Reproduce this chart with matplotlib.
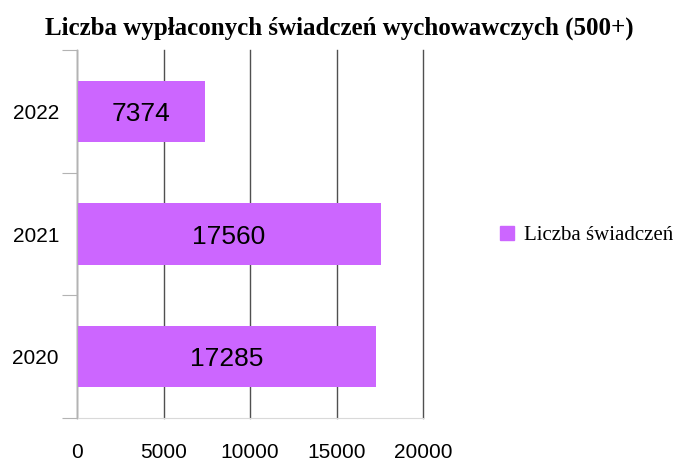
import numpy as np
import matplotlib.pyplot as plt
from matplotlib.patches import Patch

# data
years = ['2020', '2021', '2022']
counts = [17285, 17560, 7374]
series_name = 'Liczba świadczeń'
title = 'Liczba wypłaconych świadczeń wychowawczych (500+)'
bar_color = '#cc66ff'

fig = plt.figure(figsize=(6.78, 4.62), dpi=100)
ax = fig.add_axes([0.1136, 0.0952, 0.5103, 0.7966])

y = np.arange(len(years))
ax.barh(y, counts, height=0.5, color=bar_color, zorder=3)
for yi, c in zip(y, counts):
    ax.text(c / 2, yi, str(c), ha='center', va='center_baseline', fontsize=19,
            family='Liberation Sans', zorder=4)

ax.set_xlim(0, 20000)
ax.set_ylim(-0.5, 2.5)
ax.set_xticks([0, 5000, 10000, 15000, 20000])
ax.set_xticklabels(['0', '5000', '10000', '15000', '20000'],
                   family='Liberation Sans', fontsize=15)
ax.tick_params(axis='x', length=0, pad=18)

# category boundaries as tick marks, labels in the middle
ax.set_yticks([-0.5, 0.5, 1.5, 2.5])
ax.set_yticklabels([])
ax.tick_params(axis='y', which='major', length=11, color='#b3b3b3', direction='out')
ax.set_yticks(y, minor=True)
ax.set_yticklabels(years, minor=True, family='Liberation Sans', fontsize=15)
ax.tick_params(axis='y', which='minor', length=0, pad=13)

ax.grid(axis='x', color='#505050', linewidth=1, zorder=0)
for gl in ax.get_xgridlines():
    gl.set_clip_on(False)
for s in ['top', 'right']:
    ax.spines[s].set_visible(False)
ax.spines['left'].set_color('#b3b3b3')
ax.spines['bottom'].set_color('#d9d9d9')
ax.spines['left'].set_zorder(5)

fig.text(0.5, 0.939, title, ha='center', va='center', family='Liberation Serif',
         fontweight='bold', fontsize=18)

fig.legend(handles=[Patch(color=bar_color, label=series_name)],
           loc='center left', bbox_to_anchor=(0.738, 0.49), frameon=False,
           prop={'family': 'Liberation Serif', 'size': 15},
           handlelength=0.65, handleheight=0.65, handletextpad=0.5,
           borderaxespad=0, borderpad=0)

fig.savefig('out.png', dpi=100)
